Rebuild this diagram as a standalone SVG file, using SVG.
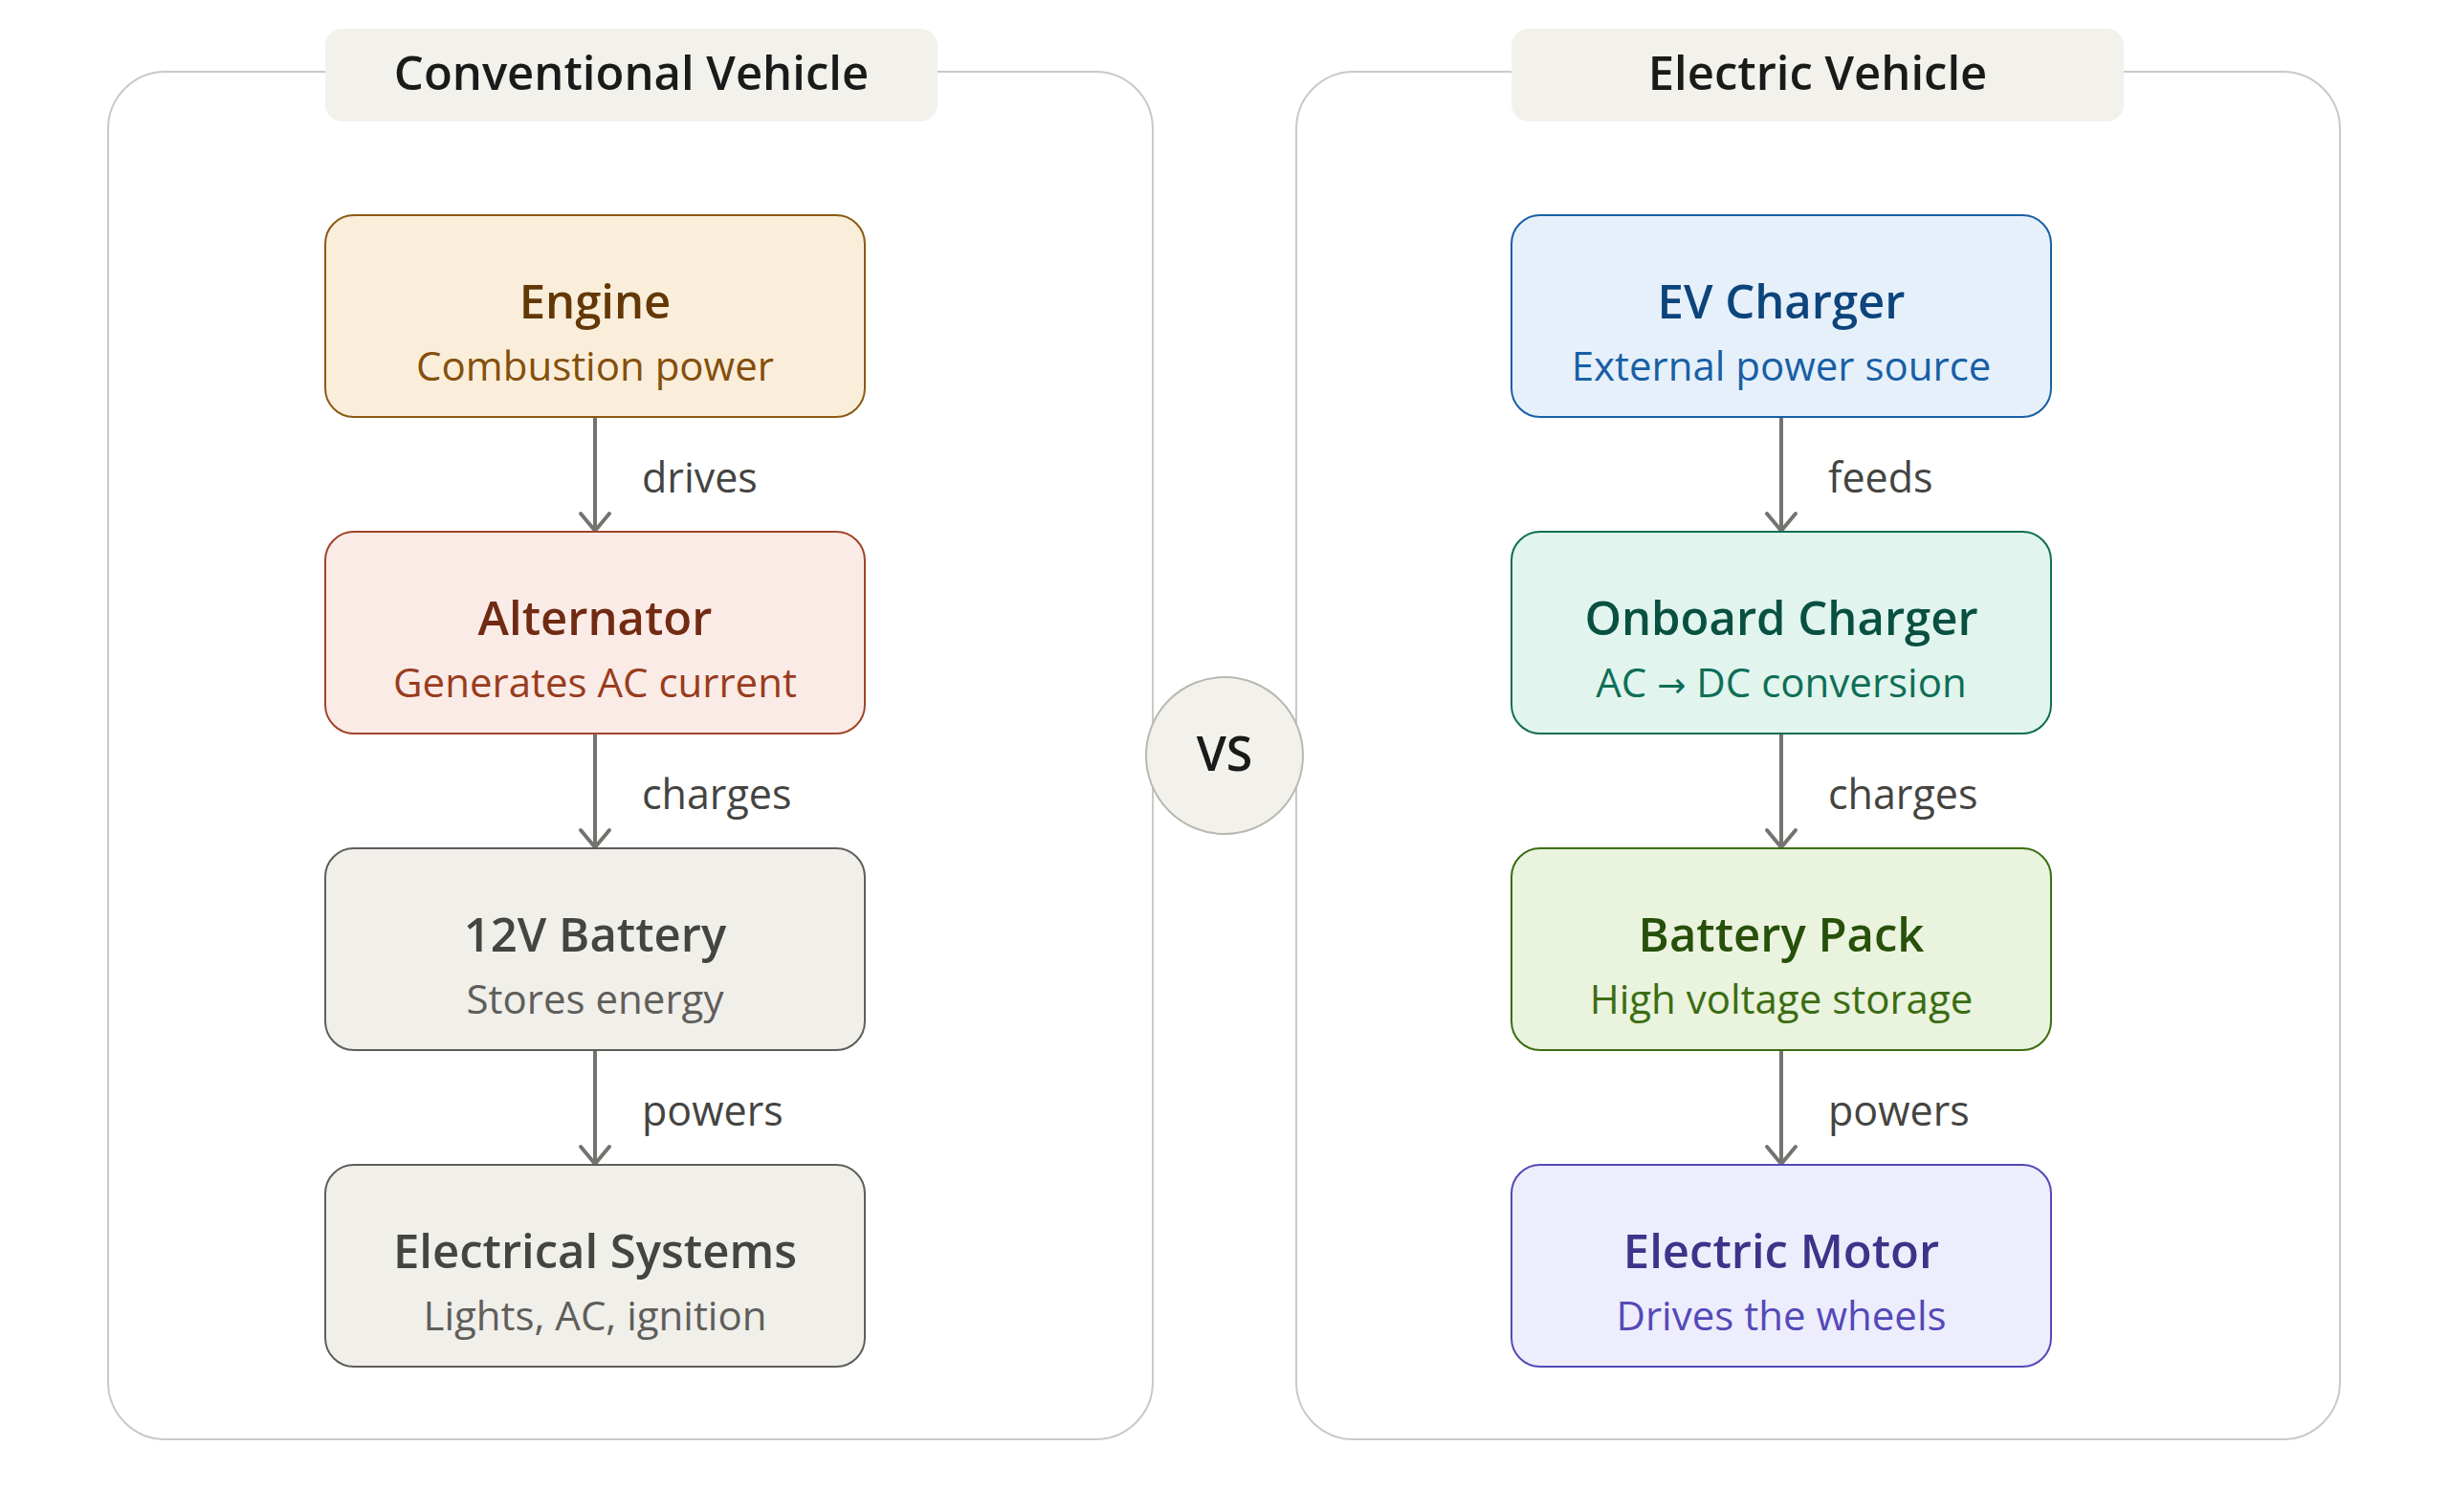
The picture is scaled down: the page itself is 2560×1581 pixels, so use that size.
<svg xmlns="http://www.w3.org/2000/svg" width="2560" height="1581" viewBox="0 0 2560 1581">
<defs>
<style>
text{font-family:"Open Sans","Noto Sans","Liberation Sans",sans-serif;text-anchor:middle}
.panel{fill:#ffffff;stroke:#c9c9c6;stroke-width:2}
.pill{fill:#f2f1ec}
.ptitle{font-size:49px;font-weight:600;fill:#1a1a1a}
.node rect{stroke-width:2}
.t{font-size:49px;font-weight:600}
.s{font-size:42px;font-weight:400}
.lbl{font-size:43px;fill:#444441;text-anchor:start}
.edge{stroke:#74736f;stroke-width:4;fill:none}
.head{stroke:#74736f;stroke-width:4;fill:none;stroke-linecap:round;stroke-linejoin:round}
.ar{font-family:"DejaVu Sans",sans-serif;font-size:36px}
</style>
</defs>
<rect width="2560" height="1581" fill="#ffffff"/>
<g id="panel-conventional">
<rect class="panel" x="113" y="75" width="1092" height="1430" rx="60"/>
<rect class="pill" x="340" y="30" width="640" height="97" rx="18"/>
<text class="ptitle" x="660" y="94">Conventional Vehicle</text>
</g>
<g id="panel-electric">
<rect class="panel" x="1355" y="75" width="1091" height="1430" rx="60"/>
<rect class="pill" x="1580" y="30" width="640" height="97" rx="18"/>
<text class="ptitle" x="1900" y="94">Electric Vehicle</text>
</g>
<g id="vs">
<circle cx="1280" cy="790" r="82" fill="#f2f1ec" stroke="#b9b8b2" stroke-width="2"/>
<text x="1280" y="806" style="font-size:50px;font-weight:600;fill:#1a1a1a">VS</text>
</g>
<g id="connectors">
<line class="edge" x1="622" y1="436" x2="622" y2="555"/>
<polyline class="head" points="607,537 622,555 637,537"/>
<text class="lbl" x="671" y="515">drives</text>
<line class="edge" x1="622" y1="767" x2="622" y2="886"/>
<polyline class="head" points="607,868 622,886 637,868"/>
<text class="lbl" x="671" y="846">charges</text>
<line class="edge" x1="622" y1="1098" x2="622" y2="1217"/>
<polyline class="head" points="607,1199 622,1217 637,1199"/>
<text class="lbl" x="671" y="1177">powers</text>
<line class="edge" x1="1862" y1="436" x2="1862" y2="555"/>
<polyline class="head" points="1847,537 1862,555 1877,537"/>
<text class="lbl" x="1911" y="515">feeds</text>
<line class="edge" x1="1862" y1="767" x2="1862" y2="886"/>
<polyline class="head" points="1847,868 1862,886 1877,868"/>
<text class="lbl" x="1911" y="846">charges</text>
<line class="edge" x1="1862" y1="1098" x2="1862" y2="1217"/>
<polyline class="head" points="1847,1199 1862,1217 1877,1199"/>
<text class="lbl" x="1911" y="1177">powers</text>
</g>
<g id="engine" class="node">
<rect x="340" y="225" width="564" height="211" rx="30" fill="#faeedb" stroke="#8a5a14"/>
<text class="t" x="622" y="333" fill="#633806">Engine</text>
<text class="s" x="622" y="398" fill="#854f0b">Combustion power</text>
</g>
<g id="alternator" class="node">
<rect x="340" y="556" width="564" height="211" rx="30" fill="#fbebe6" stroke="#a0452a"/>
<text class="t" x="622" y="664" fill="#712b13">Alternator</text>
<text class="s" x="622" y="729" fill="#993c1d">Generates AC current</text>
</g>
<g id="battery12v" class="node">
<rect x="340" y="887" width="564" height="211" rx="30" fill="#f0efea" stroke="#5f5e5a"/>
<text class="t" x="622" y="995" fill="#444441">12V Battery</text>
<text class="s" x="622" y="1060" fill="#5f5e5a">Stores energy</text>
</g>
<g id="electrical" class="node">
<rect x="340" y="1218" width="564" height="211" rx="30" fill="#f0efea" stroke="#5f5e5a"/>
<text class="t" x="622" y="1326" fill="#444441">Electrical Systems</text>
<text class="s" x="622" y="1391" fill="#5f5e5a">Lights, AC, ignition</text>
</g>
<g id="evcharger" class="node">
<rect x="1580" y="225" width="564" height="211" rx="30" fill="#e6f0fb" stroke="#185fa5"/>
<text class="t" x="1862" y="333" fill="#0c447c">EV Charger</text>
<text class="s" x="1862" y="398" fill="#185fa5">External power source</text>
</g>
<g id="onboard" class="node">
<rect x="1580" y="556" width="564" height="211" rx="30" fill="#e1f5ee" stroke="#0f6e56"/>
<text class="t" x="1862" y="664" fill="#085041">Onboard Charger</text>
<text class="s" x="1862" y="729" fill="#0f6e56">AC <tspan class="ar">→</tspan> DC conversion</text>
</g>
<g id="batterypack" class="node">
<rect x="1580" y="887" width="564" height="211" rx="30" fill="#eaf3de" stroke="#3b6d11"/>
<text class="t" x="1862" y="995" fill="#27500a">Battery Pack</text>
<text class="s" x="1862" y="1060" fill="#3b6d11">High voltage storage</text>
</g>
<g id="motor" class="node">
<rect x="1580" y="1218" width="564" height="211" rx="30" fill="#eeedfe" stroke="#534ab7"/>
<text class="t" x="1862" y="1326" fill="#3c3489">Electric Motor</text>
<text class="s" x="1862" y="1391" fill="#534ab7">Drives the wheels</text>
</g>
</svg>
